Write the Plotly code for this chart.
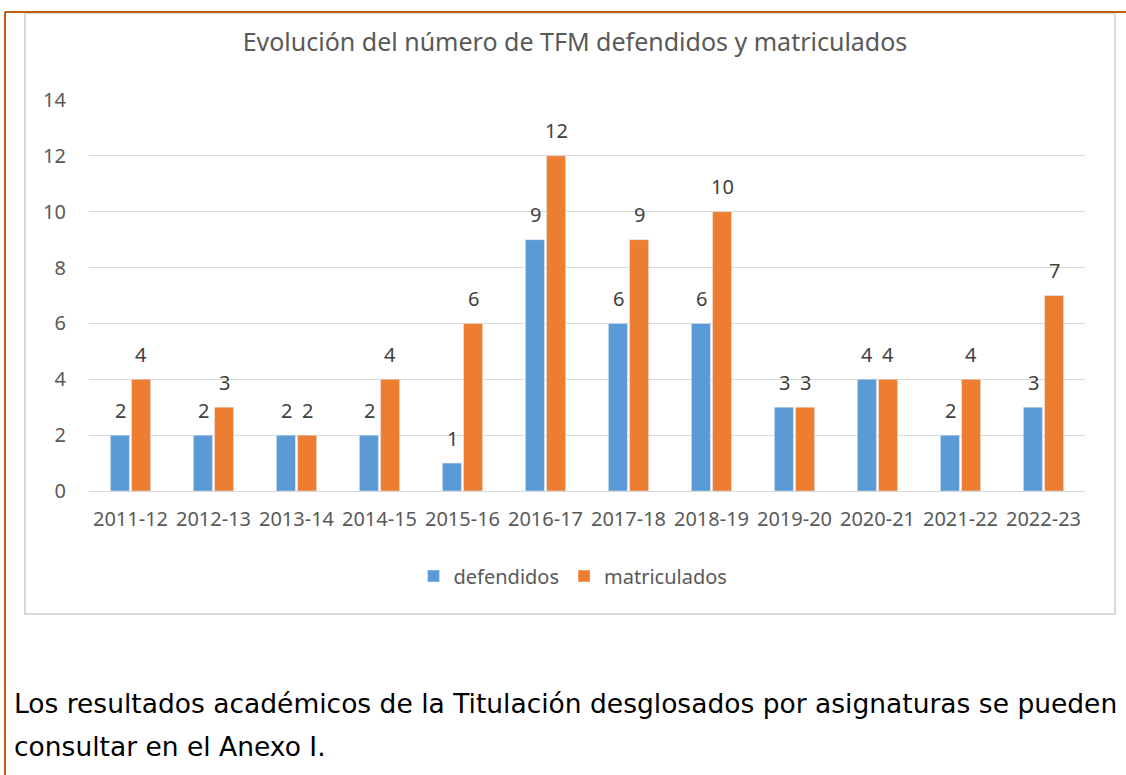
import plotly.graph_objects as go

# datos del gráfico
cursos = ["2011-12", "2012-13", "2013-14", "2014-15", "2015-16", "2016-17",
          "2017-18", "2018-19", "2019-20", "2020-21", "2021-22", "2022-23"]
defendidos = [2, 2, 2, 2, 1, 9, 6, 6, 3, 4, 2, 3]
matriculados = [4, 3, 2, 4, 6, 12, 9, 10, 3, 4, 4, 7]
y_ticks = [0, 2, 4, 6, 8, 10, 12, 14]

W, H = 1126, 775
def px(x):
    return x / W
def py(y):
    return (H - y) / H

fuente = "Noto Sans"
gris = "#595959"

fig = go.Figure()
fig.add_trace(go.Bar(x=cursos, y=defendidos, name="defendidos", marker_color="#5B9BD5"))
fig.add_trace(go.Bar(x=cursos, y=matriculados, name="matriculados", marker_color="#ED7D31"))

# etiquetas de datos encima de cada barra
for serie, desplaz in ((defendidos, -10.5), (matriculados, 10.5)):
    for c, v in zip(cursos, serie):
        fig.add_annotation(x=c, y=v, text=str(v), showarrow=False, xshift=desplaz, yshift=25,
                           yanchor="middle", font=dict(size=20, color="#404040", family=fuente))

fig.update_layout(
    width=W, height=H,
    margin=dict(l=0, r=0, t=0, b=0),
    paper_bgcolor="white", plot_bgcolor="white",
    font=dict(family=fuente, color=gris, size=20),
    barmode="group", bargap=0.49, bargroupgap=0.1,
    title=dict(text="Evolución del número de TFM defendidos y matriculados",
               x=px(575), xanchor="center", y=py(42), yanchor="middle", yref="container",
               font=dict(size=25, color=gris, family=fuente)),
    xaxis=dict(type="category", domain=[px(89), px(1085)], showline=True,
               linecolor="#D9D9D9", linewidth=1, ticks="",
               tickfont=dict(size=20, color=gris), automargin=False, ticklabelstandoff=10),
    yaxis=dict(domain=[py(491), py(100)], range=[0, 14], tickvals=y_ticks,
               showgrid=True, gridcolor="#D9D9D9", zeroline=False, ticks="",
               tickfont=dict(size=20, color=gris), automargin=False, ticklabelstandoff=22),
    legend=dict(orientation="h", x=px(573), xanchor="center", y=py(576), yanchor="middle",
                font=dict(size=20, color=gris), itemwidth=30, tracegroupgap=0),
    showlegend=True,
)

# marco del gráfico y borde de página
fig.add_shape(type="rect", xref="paper", yref="paper", x0=px(25), x1=px(1115), y0=py(614), y1=py(13),
              line=dict(color="#D9D9D9", width=2), layer="below")
fig.add_shape(type="line", xref="paper", yref="paper", x0=px(5), x1=px(5), y0=0, y1=py(12),
              line=dict(color="#C55A11", width=2))
fig.add_shape(type="line", xref="paper", yref="paper", x0=px(5), x1=1, y0=py(12), y1=py(12),
              line=dict(color="#C55A11", width=2))

# texto del documento
parrafo = ["Los resultados académicos de la Titulación desglosados por asignaturas se pueden",
           "consultar en el Anexo I."]
for i, linea in enumerate(parrafo):
    fig.add_annotation(text=linea, xref="paper", yref="paper", x=px(12), y=py(703 + 43 * i),
                       xanchor="left", yanchor="middle", showarrow=False,
                       font=dict(family="DejaVu Sans", size=26.5, color="black"))

fig.write_html("out.html", config={"displayModeBar": False},
               post_script="document.body.style.margin='0';")
